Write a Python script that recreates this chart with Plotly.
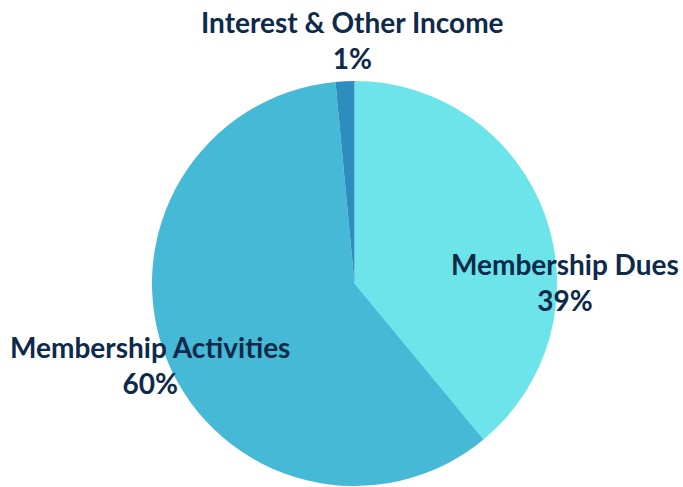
import plotly.graph_objects as go

categories = ["Membership Dues", "Membership Activities", "Interest & Other Income"]
values = [39.0, 59.5, 1.5]
percent_labels = ["39%", "60%", "1%"]
colors = ["#6CE4E9", "#46B9D7", "#2E8DBF"]

W, H = 683, 487
fig = go.Figure()
fig.add_trace(go.Pie(
    labels=categories,
    values=values,
    sort=False,
    direction="clockwise",
    rotation=0,
    marker=dict(colors=colors, line=dict(width=0)),
    textinfo="none",
    hoverinfo="label+percent",
    showlegend=False,
    domain=dict(x=[(354.5 - 202.5) / W, (354.5 + 202.5) / W], y=[1 - 486 / H, 1 - 81 / H]),
))

# label block centres (pixels from top-left) for each category
label_pos = [(565, 282), (150, 365), (352, 40)]
font = dict(family="Lato", size=28, color="#0D2A4A")
annotations = []
for name, pct, (px, py) in zip(categories, percent_labels, label_pos):
    annotations.append(dict(text=f"<b>{name}</b><br><b>{pct}</b>", x=px / W, y=1 - py / H,
                            xref="paper", yref="paper", showarrow=False,
                            xanchor="center", yanchor="middle", align="center", font=font))

fig.update_layout(
    width=W, height=H,
    margin=dict(l=0, r=0, t=0, b=0),
    paper_bgcolor="white", plot_bgcolor="white",
    annotations=annotations,
)
fig.write_html("out.html", config={"displayModeBar": False},
               post_script="document.body.style.margin='0';")
